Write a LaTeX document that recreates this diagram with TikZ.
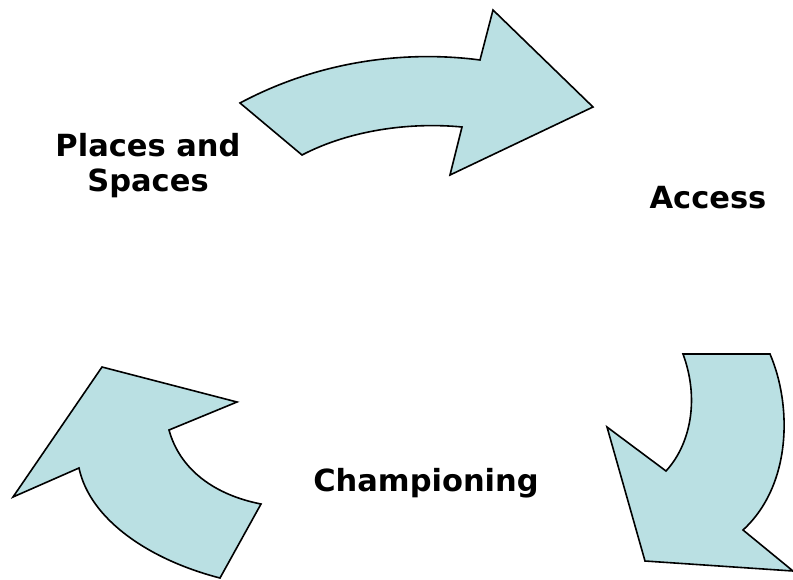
\documentclass[tikz,border=0pt]{standalone}
\usepackage{fontspec}
\setmainfont{DejaVu Sans}
\usepackage{tikz}

\definecolor{arrowblue}{RGB}{186,224,227}

\begin{document}
\begin{tikzpicture}
	[x=1pt, y=-1pt,
	cyclearrow/.style={draw=black, fill=arrowblue, line width=1.6pt, line join=miter},
	steplabel/.style={font=\bfseries\fontsize{30.5}{35}\selectfont, align=center, inner sep=0pt}]
	
	\useasboundingbox (0,0) rectangle (793,579);
	
	% top arrow: places and spaces -> access
	\draw [cyclearrow] (240,103) .. controls (330,55) and (420,52) .. (480,60)
		-- (493,10) -- (593,107) -- (450,175) -- (462,127)
		.. controls (410,122) and (350,130) .. (302,155) -- cycle;
	
	% right arrow: access -> championing
	\draw [cyclearrow] (683,354) -- (770,354)
		.. controls (792,405) and (792,485) .. (743,530)
		-- (793,571) -- (645,561) -- (607,427) -- (666,471)
		.. controls (690,445) and (700,400) .. cycle;
	
	% left arrow: championing -> places and spaces
	\draw [cyclearrow] (102,367) -- (237,402) -- (169,430)
		.. controls (180,470) and (215,495) .. (261,504)
		-- (220,578)
		.. controls (150,560) and (90,520) .. (79,468)
		-- (13,497) -- cycle;
	
	\node [steplabel] (places) at (148,166) {Places and\\Spaces};
	\node [steplabel] (access) at (708,198) {Access};
	\node [steplabel] (championing) at (426,483) {Championing};
\end{tikzpicture}
\end{document}
